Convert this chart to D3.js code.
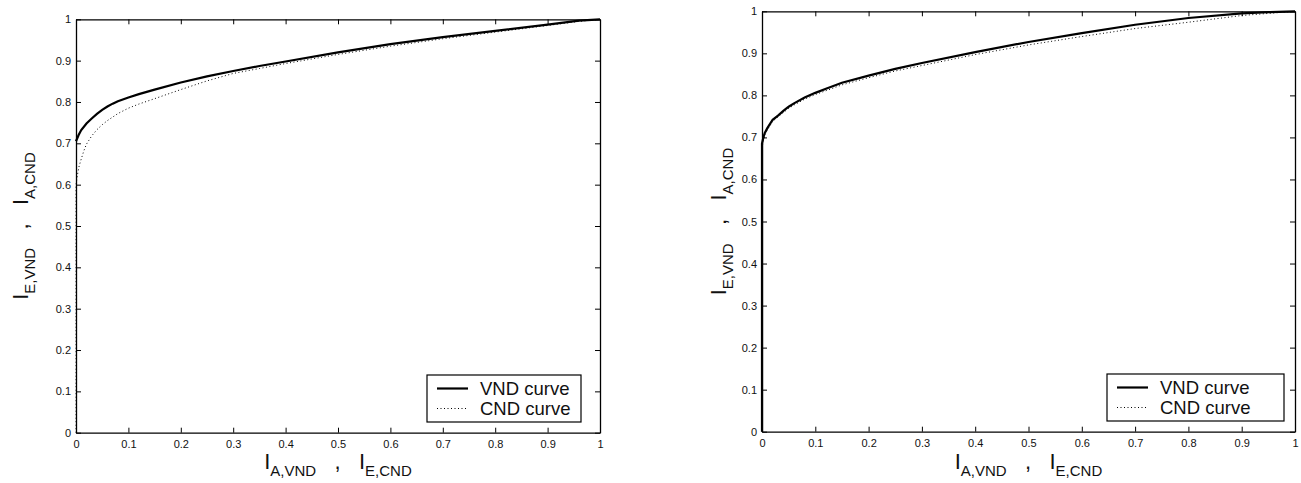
<!DOCTYPE html>
<html>
<head>
<meta charset="utf-8">
<script src="https://cdn.jsdelivr.net/npm/d3@7"></script>
<style>
  body { margin: 0; background: #fff; }
  svg { display: block; font-family: "Liberation Sans", Arial, sans-serif; }
  text { white-space: pre; }
</style>
</head>
<body>
<svg id="chart" width="1301" height="483"></svg>
<script>
const ticks = [0, 0.1, 0.2, 0.3, 0.4, 0.5, 0.6, 0.7, 0.8, 0.9, 1];
const tickLabels = ['0', '0.1', '0.2', '0.3', '0.4', '0.5', '0.6', '0.7', '0.8', '0.9', '1'];
const legendNames = ['VND curve', 'CND curve'];

// left panel
const leftVndX = [0, 0.005, 0.01, 0.02, 0.03, 0.04, 0.05, 0.06, 0.07, 0.08, 0.1, 0.12, 0.15, 0.2, 0.25, 0.3, 0.35, 0.4, 0.5, 0.6, 0.7, 0.8, 0.9, 0.96, 1];
const leftVndY = [0.705, 0.72, 0.732, 0.748, 0.76, 0.771, 0.781, 0.789, 0.796, 0.802, 0.811, 0.819, 0.83, 0.847, 0.862, 0.875, 0.887, 0.898, 0.92, 0.94, 0.957, 0.972, 0.987, 0.997, 1];
const leftCndX = [0, 0, 0.003, 0.006, 0.01, 0.015, 0.02, 0.03, 0.04, 0.05, 0.06, 0.08, 0.1, 0.12, 0.15, 0.2, 0.25, 0.3, 0.35, 0.4, 0.5, 0.6, 0.7, 0.8, 0.9, 0.96, 1];
const leftCndY = [0, 0.6, 0.625, 0.645, 0.662, 0.682, 0.698, 0.718, 0.733, 0.745, 0.755, 0.772, 0.785, 0.795, 0.808, 0.83, 0.851, 0.869, 0.881, 0.893, 0.915, 0.935, 0.953, 0.969, 0.985, 0.995, 1];

// right panel
const rightVndX = [0, 0, 0.002, 0.005, 0.01, 0.02, 0.03, 0.04, 0.05, 0.06, 0.08, 0.1, 0.12, 0.15, 0.2, 0.25, 0.3, 0.4, 0.5, 0.6, 0.7, 0.8, 0.9, 0.95, 1];
const rightVndY = [0, 0.685, 0.697, 0.71, 0.722, 0.742, 0.752, 0.763, 0.773, 0.781, 0.795, 0.806, 0.816, 0.83, 0.847, 0.863, 0.877, 0.903, 0.927, 0.948, 0.968, 0.984, 0.995, 0.998, 1];
const rightCndX = [0, 0, 0.003, 0.006, 0.01, 0.02, 0.03, 0.04, 0.05, 0.06, 0.08, 0.1, 0.12, 0.15, 0.2, 0.25, 0.3, 0.4, 0.5, 0.6, 0.7, 0.8, 0.9, 0.95, 1];
const rightCndY = [0, 0.675, 0.695, 0.707, 0.718, 0.738, 0.749, 0.759, 0.769, 0.777, 0.791, 0.802, 0.811, 0.825, 0.842, 0.858, 0.871, 0.897, 0.92, 0.94, 0.959, 0.974, 0.99, 0.995, 1];

const svg = d3.select('#chart');

function panel(cfg) {
    const x = d3.scaleLinear().domain([0, 1]).range([cfg.x0, cfg.x1]);
    const y = d3.scaleLinear().domain([0, 1]).range([cfg.y0, cfg.y1]);
    const g = svg.append('g');
    const fmt = (d, i) => tickLabels[i];

    // box with inward ticks on all four sides
    const axes = [
        [d3.axisBottom(x).tickSizeInner(-5).tickPadding(8).tickFormat(fmt), `translate(0,${cfg.y0})`],
        [d3.axisTop(x).tickSizeInner(-5).tickFormat(''), `translate(0,${cfg.y1})`],
        [d3.axisLeft(y).tickSizeInner(-5).tickPadding(5).tickFormat(fmt), `translate(${cfg.x0},0)`],
        [d3.axisRight(y).tickSizeInner(-5).tickFormat(''), `translate(${cfg.x1},0)`]
    ];
    axes.forEach(([ax, tr]) => {
        const a = g.append('g').attr('transform', tr)
            .call(ax.tickValues(ticks).tickSizeOuter(0));
        a.select('.domain').attr('stroke', '#000').attr('stroke-width', 1.3);
        a.selectAll('.tick line').attr('stroke', '#000').attr('stroke-width', 1);
        a.selectAll('.tick text').attr('font-size', 11).attr('fill', '#111')
            .attr('font-family', '"Liberation Sans", Arial, sans-serif');
    });

    const line = d3.line().x(d => x(d[0])).y(d => y(d[1]));
    g.append('path')
        .datum(cfg.cndX.map((v, i) => [v, cfg.cndY[i]]))
        .attr('d', line).attr('fill', 'none').attr('stroke', '#000')
        .attr('stroke-width', 1).attr('stroke-dasharray', '1,2.5');
    g.append('path')
        .datum(cfg.vndX.map((v, i) => [v, cfg.vndY[i]]))
        .attr('d', line).attr('fill', 'none').attr('stroke', '#000')
        .attr('stroke-width', 2.2);

    // axis labels
    const xl = g.append('text')
        .attr('x', (cfg.x0 + cfg.x1) / 2).attr('y', 469)
        .attr('text-anchor', 'middle').attr('fill', '#111').attr('font-size', 22);
    xl.append('tspan').text('I');
    xl.append('tspan').attr('font-size', 15).attr('dy', 7).text('A,VND');
    xl.append('tspan').attr('dy', -7).text('   ,   I');
    xl.append('tspan').attr('font-size', 15).attr('dy', 7).text('E,CND');

    const yl = g.append('text')
        .attr('transform', `translate(${cfg.ylx},${(cfg.y0 + cfg.y1) / 2}) rotate(-90)`)
        .attr('text-anchor', 'middle').attr('fill', '#111').attr('font-size', 22);
    yl.append('tspan').text('I');
    yl.append('tspan').attr('font-size', 15).attr('dy', 7).text('E,VND');
    yl.append('tspan').attr('dy', -7).text('   ,   I');
    yl.append('tspan').attr('font-size', 15).attr('dy', 7).text('A,CND');

    // legend
    const lg = g.append('g');
    lg.append('rect')
        .attr('x', cfg.lx).attr('y', cfg.ly).attr('width', cfg.lw).attr('height', 47)
        .attr('fill', '#fff').attr('stroke', '#000').attr('stroke-width', 1.2);
    legendNames.forEach((name, i) => {
        const ly = cfg.ly + 13.5 + i * 20;
        lg.append('line')
            .attr('x1', cfg.lx + 10).attr('x2', cfg.lx + 41)
            .attr('y1', ly).attr('y2', ly)
            .attr('stroke', '#000')
            .attr('stroke-width', i === 0 ? 2.2 : 1)
            .attr('stroke-dasharray', i === 0 ? null : '1,2.5');
        lg.append('text')
            .attr('x', cfg.lx + 53).attr('y', ly + 6.5)
            .attr('font-size', 18.5).attr('fill', '#111').text(name);
    });
}

panel({ x0: 76, x1: 600, y0: 432.7, y1: 19.3, ylx: 28, lx: 427, ly: 375, lw: 154,
        vndX: leftVndX, vndY: leftVndY, cndX: leftCndX, cndY: leftCndY });
panel({ x0: 762, x1: 1295, y0: 431.7, y1: 11.3, ylx: 726, lx: 1107, ly: 374, lw: 177,
        vndX: rightVndX, vndY: rightVndY, cndX: rightCndX, cndY: rightCndY });
</script>
</body>
</html>
